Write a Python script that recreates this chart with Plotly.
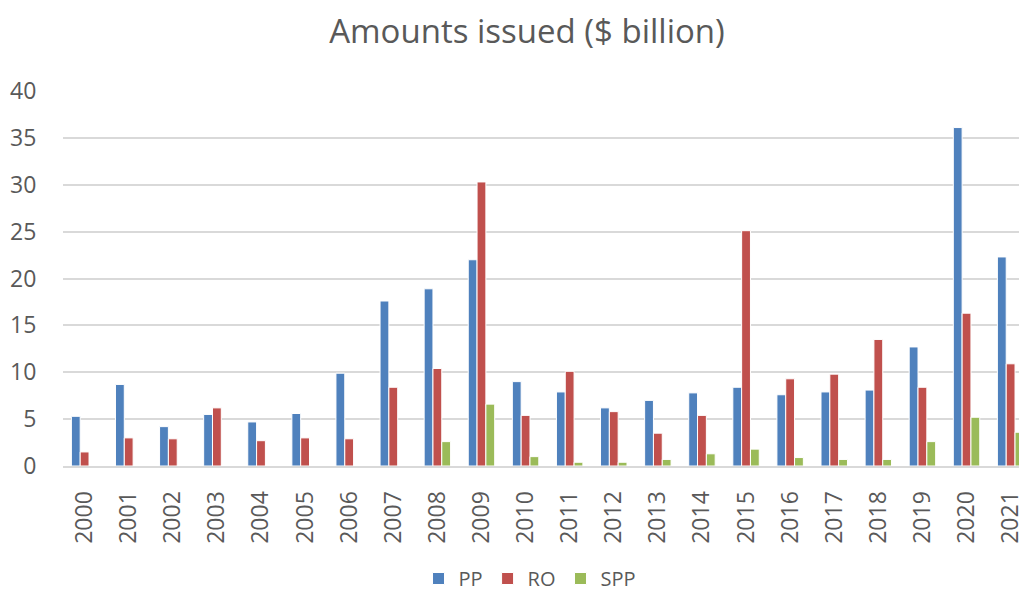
import plotly.graph_objects as go

years = [str(y) for y in range(2000, 2022)]
pp = [5.3, 8.7, 4.2, 5.5, 4.7, 5.6, 9.9, 17.6, 18.9, 22.0, 9.0, 7.9, 6.2, 7.0,
      7.8, 8.4, 7.6, 7.9, 8.1, 12.7, 36.1, 22.3]
ro = [1.5, 3.0, 2.9, 6.2, 2.7, 3.0, 2.9, 8.4, 10.4, 30.3, 5.4, 10.1, 5.8, 3.5,
      5.4, 25.1, 9.3, 9.8, 13.5, 8.4, 16.3, 10.9]
spp = [0, 0, 0, 0, 0, 0, 0, 0, 2.6, 6.6, 1.0, 0.4, 0.4, 0.7,
       1.3, 1.8, 0.9, 0.7, 0.7, 2.6, 5.2, 3.6]
y_ticks = [0, 5, 10, 15, 20, 25, 30, 35, 40]

series = [("PP", pp, "#4F81BD"), ("RO", ro, "#C0504D"), ("SPP", spp, "#9BBB59")]

FONT = "'Open Sans', Lato, sans-serif"
GREY = "#595959"

fig = go.Figure()
for name, vals, col in series:
    fig.add_trace(go.Bar(x=years, y=vals, name=name,
                         marker=dict(color=col, line=dict(color="white", width=1))))

fig.update_layout(
    width=1019, height=591,
    margin=dict(l=63, r=0, t=91, b=125, autoexpand=False),
    paper_bgcolor="white", plot_bgcolor="white",
    barmode="group", bargap=0.4, bargroupgap=0,
    font=dict(family=FONT, color=GREY, size=22),
    title=dict(text="Amounts issued ($ billion)", x=527/1019, xref="container",
               xanchor="center", y=1-31/591, yanchor="middle",
               font=dict(size=33, color=GREY, family=FONT)),
    showlegend=True,
    legend=dict(orientation="h", x=0.488, xanchor="center", y=-0.30, yanchor="middle",
                font=dict(size=20, color=GREY, family=FONT), itemwidth=30,
                traceorder="normal"),
)
fig.update_xaxes(type="category", range=[-0.49, 21.19], tickangle=-90,
                 ticks="outside", ticklen=14, tickcolor="rgba(0,0,0,0)",
                 tickfont=dict(size=23, color=GREY), automargin=False,
                 showline=True, linecolor="#D9D9D9", linewidth=2,
                 showgrid=False, fixedrange=True)
fig.update_yaxes(range=[0, 40], tickvals=y_ticks, ticks="outside", ticklen=21,
                 tickcolor="rgba(0,0,0,0)", tickfont=dict(size=23, color=GREY),
                 automargin=False,
                 showgrid=True, gridcolor="#D9D9D9", gridwidth=2,
                 zeroline=False, showline=False, fixedrange=True)

fig.write_html("out.html")
